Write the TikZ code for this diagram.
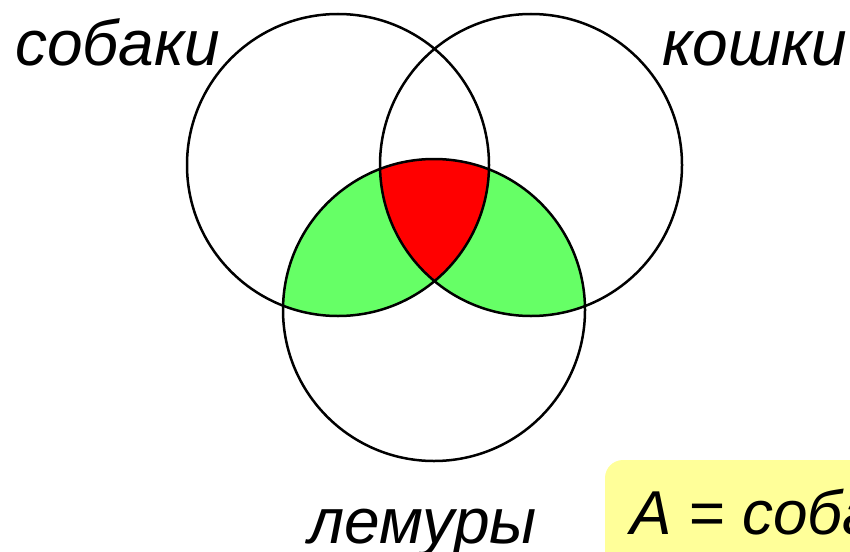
\documentclass[tikz,border=0pt]{standalone}
\usepackage{fontspec}
\setmainfont{Liberation Sans}
\definecolor{setgreen}{HTML}{66FF66}
\definecolor{setred}{HTML}{FF0000}
\definecolor{notebg}{HTML}{FFFF99}
\begin{document}
\begin{tikzpicture}[
  x=1pt, y=-1pt,
  every node/.style={font=\fontsize{64}{64}\selectfont\itshape, inner sep=0pt},
  setline/.style={line width=2.5pt, black},
]
\useasboundingbox (0,0) rectangle (850,551);

% ---- Circle centres (pixels), radius 151 ----
\coordinate (dogs)    at (338,165);
\coordinate (cats)    at (531,165);
\coordinate (lemurs)  at (434,310);
\def\rad{151}

% ---- Green: lemurs with dogs or cats ----
\begin{scope}
  \clip (lemurs) circle (\rad);
  \fill[setgreen] (dogs) circle (\rad);
  \fill[setgreen] (cats) circle (\rad);
\end{scope}

% ---- Red: all three ----
\begin{scope}
  \clip (lemurs) circle (\rad);
  \clip (dogs) circle (\rad);
  \fill[setred] (cats) circle (\rad);
\end{scope}

% ---- Outlines ----
\foreach \c in {dogs, cats, lemurs}
  \draw[setline] (\c) circle (\rad);

% ---- Labels ----
\node[anchor=base west] (dogslabel)   at (15,65)   {собаки};
\node[anchor=base west] (catslabel)   at (662,65)  {кошки};
\node[anchor=base west] (lemurslabel) at (308,543) {лемуры};

% ---- Note box (cut by the page edge) ----
\fill[gray!15, rounded corners=18pt] (607,462) rectangle (900,600);
\fill[notebg, rounded corners=18pt] (605,460) rectangle (900,600);
\node[anchor=base west, font=\fontsize{62}{62}\selectfont\itshape]
  (note) at (630,534) {A = собаки};

\end{tikzpicture}
\end{document}
